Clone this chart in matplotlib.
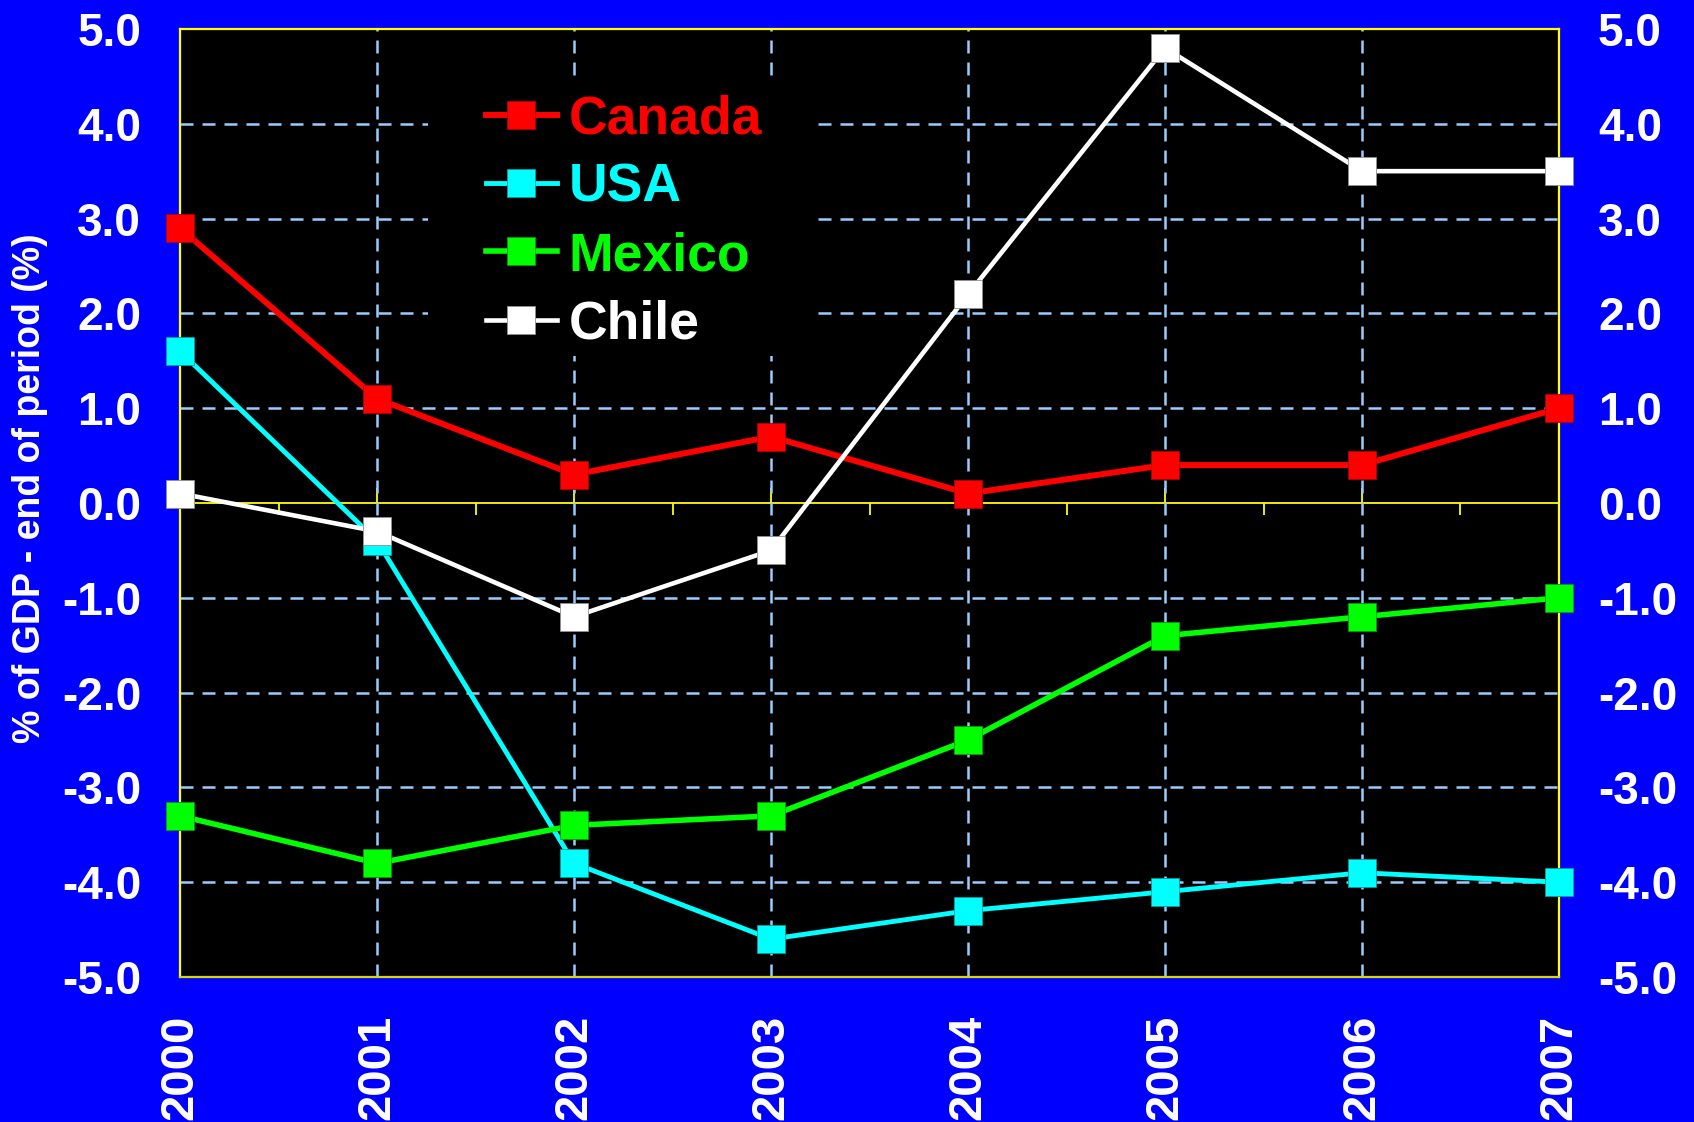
import matplotlib
matplotlib.use('Agg')
import matplotlib.pyplot as plt
from matplotlib.path import Path
from matplotlib.ticker import FixedLocator

# ---- data ----
years = [2000, 2001, 2002, 2003, 2004, 2005, 2006, 2007]
canada = [2.9, 1.1, 0.3, 0.7, 0.1, 0.4, 0.4, 1.0]
usa = [1.6, -0.4, -3.8, -4.6, -4.3, -4.1, -3.9, -4.0]
mexico = [-3.3, -3.8, -3.4, -3.3, -2.5, -1.4, -1.2, -1.0]
chile = [0.1, -0.3, -1.2, -0.5, 2.2, 4.8, 3.5, 3.5]
series_names = ['Canada', 'USA', 'Mexico', 'Chile']
y_ticks = [-5, -4, -3, -2, -1, 0, 1, 2, 3, 4, 5]
y_tick_labels = ['-5.0', '-4.0', '-3.0', '-2.0', '-1.0', '0.0',
                 '1.0', '2.0', '3.0', '4.0', '5.0']
x_tick_labels = ['2000', '2001', '2002', '2003', '2004', '2005', '2006', '2007']
y_label = '% of GDP - end of period (%)'

# ---- style ----
FONT = ['Liberation Sans', 'Arial', 'DejaVu Sans']
plt.rcParams['font.family'] = FONT
plt.rcParams['axes.unicode_minus'] = False
BG = '#0000FF'
YELLOW = '#FFFF00'
GRID = '#99CCFF'
colors = ['#FF0000', '#00FFFF', '#00FF00', '#FFFFFF']
edge_colors = ['#B00000', '#00A0A0', '#00A000', '#909090']
widths = [4.3, 3.5, 4.0, 3.3]

fig = plt.figure(figsize=(16.94, 11.22), dpi=100, facecolor=BG)
ax = fig.add_axes([0.1063, 0.1292, 0.8140, 0.8450])

ax.set_xlim(years[0], years[-1])
ax.set_ylim(y_ticks[0], y_ticks[-1])

# background axes carrying the zero line with its tick marks
ax0 = ax.twiny()
ax0.set_zorder(0)
ax.set_zorder(1)
ax.patch.set_visible(False)
ax0.patch.set_visible(True)
ax0.set_facecolor('black')
ax0.set_xlim(years[0], years[-1])
ax0.xaxis.set_ticks_position('bottom')
ax0.spines['bottom'].set_position(('data', 0))
for k in ['top', 'left', 'right']:
    ax0.spines[k].set_visible(False)
ax0.spines['bottom'].set_color(YELLOW)
ax0.spines['bottom'].set_linewidth(1.3)
ax0.set_xticks(years)
ax0.set_xticklabels([])
ax0.xaxis.set_minor_locator(FixedLocator([y + 0.5 for y in years[:-1]]))
ax0.tick_params(which='major', direction='in', length=11, width=1.3,
                color=YELLOW, labelbottom=False, labeltop=False, top=False)
ax0.tick_params(which='minor', direction='out', length=8.6, width=1.3,
                color=YELLOW, labelbottom=False, labeltop=False, top=False)

ax.set_xticks(years)
ax.set_xticklabels(x_tick_labels, rotation=90, fontsize=34,
                   fontweight='bold', color='white')
ax.set_yticks(y_ticks)
ax.set_yticklabels(y_tick_labels, fontsize=33, fontweight='bold', color='white')
ax.tick_params(axis='x', length=0, pad=27)
ax.tick_params(axis='y', length=0, pad=28, labelright=True, right=True)
for lab in ax.get_yticklabels(which='both'):
    lab.set_fontweight('bold')

ax.grid(True, color=GRID, linewidth=1.8, linestyle=(0, (5.2, 3.6)), zorder=0.5)
ygl = ax.get_ygridlines()
xgl = ax.get_xgridlines()
for g in (ygl[0], ygl[-1], ygl[y_ticks.index(0)], xgl[0], xgl[-1]):
    g.set_visible(False)

for s in ax.spines.values():
    s.set_color(YELLOW)
    s.set_linewidth(1.6)
ax.spines['bottom'].set_color('#D8D800')

ax.set_ylabel(y_label, fontsize=27, fontweight='bold', color='white', va='center')
ax.yaxis.set_label_coords(-0.109, 0.516)

handles = []
for name, vals, c, ec, lw in zip(series_names, [canada, usa, mexico, chile],
                                 colors, edge_colors, widths):
    h, = ax.plot(years, vals, color=c, linewidth=lw, marker='s', markersize=20,
                 markerfacecolor=c, markeredgecolor=ec, markeredgewidth=0.6,
                 label=name, zorder=4, clip_on=False)
    handles.append(h)


def wide_box(x0, y0, width, height, mutation_size):
    pl = 0.93 * mutation_size
    pr = 0.84 * mutation_size
    pt = 0.13 * mutation_size
    pb = -0.03 * mutation_size
    xa, xb = x0 - pl, x0 + width + pr
    ya, yb = y0 - pb, y0 + height + pt
    return Path([(xa, ya), (xb, ya), (xb, yb), (xa, yb), (xa, ya)],
                [Path.MOVETO, Path.LINETO, Path.LINETO, Path.LINETO, Path.CLOSEPOLY])


leg = ax.legend(handles=handles, loc='upper left', bbox_to_anchor=(0.216, 0.939),
                frameon=True, facecolor='black', edgecolor='none', framealpha=1,
                fancybox=False, borderpad=0.15, handlelength=1.33,
                handletextpad=0.22, labelspacing=0.34, numpoints=1,
                borderaxespad=0, prop={'weight': 'bold', 'size': 38.5})
for t, c in zip(leg.get_texts(), colors):
    t.set_color(c)
leg.get_frame().set_boxstyle(wide_box)
leg.set_zorder(5)

fig.savefig('out.png', dpi=100, facecolor=BG)
